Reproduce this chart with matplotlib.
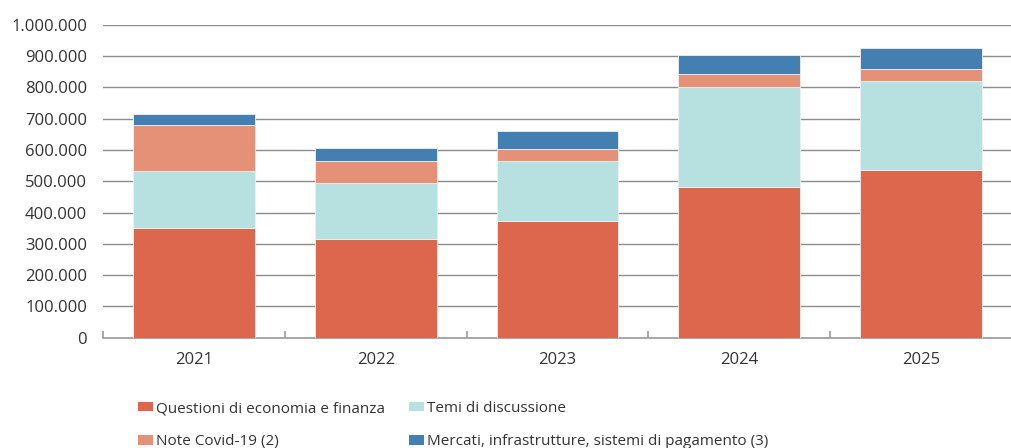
import numpy as np
import matplotlib.pyplot as plt
from matplotlib.patches import Patch
from matplotlib.ticker import FuncFormatter

years = ['2021', '2022', '2023', '2024', '2025']
economia = [351000, 315000, 374000, 482000, 537000]
temi = [181000, 178000, 190000, 320000, 282000]
covid = [147000, 73000, 39000, 41000, 39000]
mercati = [36000, 41000, 58000, 59000, 66000]

labels = ['Questioni di economia e finanza', 'Temi di discussione',
          'Note Covid-19 (2)', 'Mercati, infrastrutture, sistemi di pagamento (3)']
colors = ['#DD674D', '#B7E1E0', '#E59177', '#447FB2']

plt.rcParams['font.family'] = ['Open Sans', 'DejaVu Sans']

fig = plt.figure(figsize=(10.12, 4.48), dpi=100)
ax = fig.add_axes([103/1012, 1 - 337.7/448, (1012 - 103)/1012, 313/448])

x = np.arange(len(years))
series = [economia, temi, covid, mercati]
bottom = np.zeros(len(years))
for vals, col in zip(series, colors):
    ax.bar(x, vals, width=0.67, bottom=bottom, color=col,
           edgecolor='#f0f0f0', linewidth=0.6, zorder=3)
    bottom += np.array(vals)

ax.set_ylim(0, 1000000)
ax.set_xlim(-0.5, (1012 - 103)/184 - 0.5)
ax.set_yticks(np.arange(0, 1000001, 100000))
ax.yaxis.set_major_formatter(FuncFormatter(lambda v, p: f'{int(v):,}'.replace(',', '.')))
ax.grid(axis='y', color='#8c8c8c', linewidth=1.0, zorder=0)
ax.set_axisbelow(True)

for s in ['top', 'right', 'left']:
    ax.spines[s].set_visible(False)
ax.spines['bottom'].set_color('#9a9a9a')
ax.spines['bottom'].set_linewidth(1.2)

ax.set_xticks(x)
ax.set_xticklabels(years)
ax.set_xticks(np.arange(-0.5, 5, 1), minor=True)
ax.tick_params(axis='x', which='major', length=0, pad=10, labelsize=12, labelcolor='#333333')
ax.tick_params(axis='x', which='minor', direction='in', length=5, color='#9a9a9a', width=1.2)
ax.tick_params(axis='y', length=0, pad=11.5, labelsize=12, labelcolor='#333333')

handles = [Patch(facecolor=colors[i]) for i in [0, 2, 1, 3]]
hlabels = [labels[i] for i in [0, 2, 1, 3]]
leg = fig.legend(handles, hlabels, ncol=2, loc='upper left',
                 bbox_to_anchor=(138/1012, 1 - 401/448), frameon=False,
                 borderpad=0, borderaxespad=0,
                 handlelength=1.0, handleheight=0.55, handletextpad=0.15,
                 columnspacing=1.6, labelspacing=1.2,
                 prop={'size': 11})
for t in leg.get_texts():
    t.set_color('#333333')

fig.savefig('out.png', dpi=100)
